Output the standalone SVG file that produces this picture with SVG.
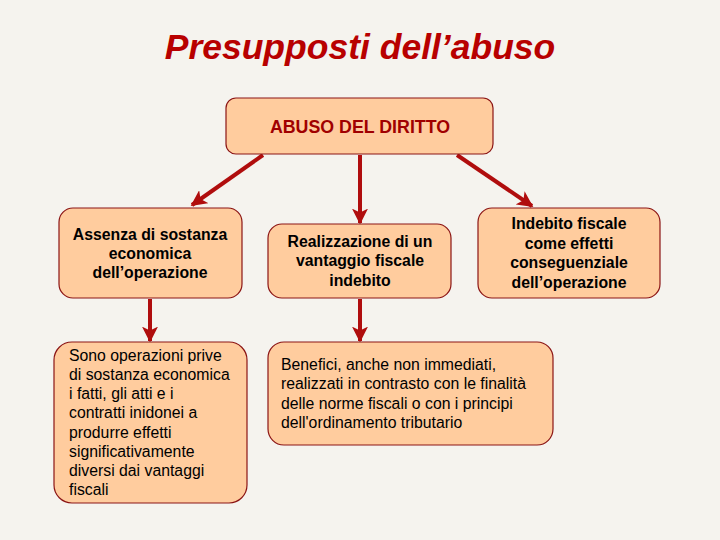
<svg xmlns="http://www.w3.org/2000/svg" width="720" height="540" viewBox="0 0 720 540">
<defs>
<style>
.box{fill:#FFCC9E;stroke:#8B1414;stroke-width:1.2}
.t{font-family:"Liberation Sans",Arial,sans-serif;font-size:15.8px;fill:#000}
.b{font-weight:bold;text-anchor:middle}
.arr{stroke:#B00D0D;stroke-width:4;fill:none;marker-end:url(#ah)}
</style>
<marker id="ah" viewBox="0 0 10 10" refX="9" refY="5" markerWidth="4" markerHeight="4" orient="auto" markerUnits="strokeWidth">
<path d="M0,0 L10,5 L0,10 L2.5,5 Z" fill="#B00D0D"/>
</marker>
</defs>
<rect width="720" height="540" fill="#F5F3EE"/>
<text x="360" y="59" text-anchor="middle" font-family="Liberation Sans,Arial,sans-serif" font-size="35.5" font-weight="bold" font-style="italic" fill="#B80000">Presupposti dell’abuso</text>
<g id="connectors">
<line class="arr" x1="263" y1="155" x2="192" y2="205"/>
<line class="arr" x1="360" y1="155" x2="360" y2="223"/>
<line class="arr" x1="457" y1="155" x2="532" y2="206"/>
<line class="arr" x1="150" y1="299" x2="150" y2="341"/>
<line class="arr" x1="360" y1="299" x2="360" y2="341"/>
</g>
<g id="abuso">
<rect class="box" x="226" y="98" width="267" height="56" rx="10"/>
<text x="360" y="133" text-anchor="middle" font-family="Liberation Sans,Arial,sans-serif" font-size="17.8" font-weight="bold" fill="#A00000">ABUSO DEL DIRITTO</text>
</g>
<g id="assenza">
<rect class="box" x="59" y="208" width="183" height="90" rx="14"/>
<text class="t b"><tspan x="150" y="240">Assenza di sostanza</tspan><tspan x="150" y="259">economica</tspan><tspan x="150" y="278">dell’operazione</tspan></text>
</g>
<g id="realizzazione">
<rect class="box" x="268" y="224" width="183" height="74" rx="14"/>
<text class="t b"><tspan x="360" y="247">Realizzazione di un</tspan><tspan x="360" y="266">vantaggio fiscale</tspan><tspan x="360" y="286">indebito</tspan></text>
</g>
<g id="indebito">
<rect class="box" x="478" y="208" width="182" height="90" rx="14"/>
<text class="t b"><tspan x="569" y="229">Indebito fiscale</tspan><tspan x="569" y="249">come effetti</tspan><tspan x="569" y="268">conseguenziale</tspan><tspan x="569" y="288">dell’operazione</tspan></text>
</g>
<g id="sono">
<rect class="box" x="54" y="342" width="193" height="161" rx="18"/>
<text class="t"><tspan x="69" y="361">Sono operazioni prive</tspan><tspan x="69" y="380">di sostanza economica</tspan><tspan x="69" y="399">i fatti, gli atti e i</tspan><tspan x="69" y="418">contratti inidonei a</tspan><tspan x="69" y="438">produrre effetti</tspan><tspan x="69" y="457">significativamente</tspan><tspan x="69" y="476">diversi dai vantaggi</tspan><tspan x="69" y="495">fiscali</tspan></text>
</g>
<g id="benefici">
<rect class="box" x="268" y="342" width="285" height="103" rx="16"/>
<text class="t"><tspan x="281" y="370">Benefici, anche non immediati,</tspan><tspan x="281" y="389">realizzati in contrasto con le finalità</tspan><tspan x="281" y="409">delle norme fiscali o con i principi</tspan><tspan x="281" y="428">dell'ordinamento tributario</tspan></text>
</g>
</svg>
